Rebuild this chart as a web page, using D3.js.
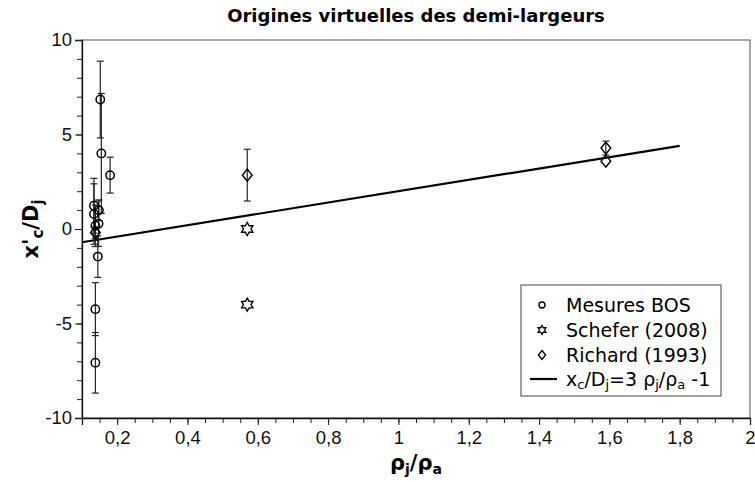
<!DOCTYPE html>
<html>
<head>
<meta charset="utf-8">
<script src="https://cdn.jsdelivr.net/npm/d3@7"></script>
<style>
  body { margin: 0; background: #fff; }
  svg { display: block; font-family: "DejaVu Sans", sans-serif; }
</style>
</head>
<body>
<svg id="chart" width="755" height="482"></svg>
<script>
// Mesures BOS: density ratio, virtual origin, half error
const bosX   = [0.134, 0.134, 0.148, 0.138, 0.147, 0.145, 0.152, 0.155, 0.18, 0.138, 0.138];
const bosY   = [1.23, 0.79, 0.99, 0.17, 0.28, -1.46, 6.85, 4.0, 2.85, -4.24, -7.08];
const bosErr = [1.45, 1.6, 0.55, 1.1, 1.2, 1.1, 2.03, 3.17, 0.95, 1.4, 1.6];

// Schefer (2008)
const scheferX = [0.57, 0.57];
const scheferY = [0.0, -4.0];

// Richard (1993)
const richardX   = [0.138, 0.57, 1.59, 1.59];
const richardY   = [-0.19, 2.85, 4.28, 3.59];
const richardErr = [0.3, 1.37, 0.37, 0.0];

// Correlation x_c/D_j = 3 rho_j/rho_a - 1
const fitX = [0.1, 1.8];

const xTicks = [0.2, 0.4, 0.6, 0.8, 1, 1.2, 1.4, 1.6, 1.8, 2];
const yTicks = [-10, -5, 0, 5, 10];

const W = 755, H = 482;
const m = { left: 82, right: 5, top: 40, bottom: 64 };
const svg = d3.select("#chart");

const x = d3.scaleLinear().domain([0.1, 2]).range([m.left, W - m.right]);
const y = d3.scaleLinear().domain([-10, 10]).range([H - m.bottom, m.top]);
const fmt = d => d3.format("")(d).replace(".", ",");

// frame
svg.append("rect")
  .attr("x", x(0.1)).attr("y", y(10))
  .attr("width", x(2) - x(0.1)).attr("height", y(-10) - y(10))
  .attr("fill", "none").attr("stroke", "#555").attr("stroke-width", 1);

// axes: minor ticks, then labelled major ticks
const xMinor = d3.range(0.1, 2.001, 0.05);
const yMinor = d3.range(-10, 10.001, 1);

svg.append("g").attr("transform", `translate(0,${y(-10)})`)
  .call(d3.axisBottom(x).tickValues(xMinor).tickSize(5).tickFormat(""))
  .call(g => g.select(".domain").remove());
const gx = svg.append("g").attr("transform", `translate(0,${y(-10)})`)
  .call(d3.axisBottom(x).tickValues(xTicks).tickSize(7).tickPadding(6).tickFormat(fmt));
gx.selectAll("text").attr("font-size", 18.5).attr("fill", "#111");

svg.append("g").attr("transform", `translate(${x(0.1)},0)`)
  .call(d3.axisLeft(y).tickValues(yMinor).tickSize(5).tickFormat(""))
  .call(g => g.select(".domain").remove());
const gy = svg.append("g").attr("transform", `translate(${x(0.1)},0)`)
  .call(d3.axisLeft(y).tickValues(yTicks).tickSize(7).tickPadding(3).tickFormat(d => d));
gy.selectAll("text").attr("font-size", 18.5).attr("fill", "#111");
svg.selectAll(".domain").attr("stroke", "#111").attr("stroke-width", 1.3);
svg.selectAll(".tick line").attr("stroke", "#222");

// title
svg.append("text").attr("x", (x(0.1) + x(2)) / 2).attr("y", 22)
  .attr("text-anchor", "middle").attr("font-size", 18).attr("font-weight", "bold")
  .text("Origines virtuelles des demi-largeurs");

// axis labels
const xl = svg.append("text").attr("x", (x(0.1) + x(2)) / 2).attr("y", 470)
  .attr("text-anchor", "middle").attr("font-size", 21).attr("font-weight", "bold");
xl.append("tspan").text("ρ");
xl.append("tspan").attr("font-size", 14).attr("dy", 4).text("j");
xl.append("tspan").attr("dy", -4).text("/ρ");
xl.append("tspan").attr("font-size", 14).attr("dy", 4).text("a");

const yl = svg.append("text")
  .attr("transform", `translate(38,${y(0)}) rotate(-90)`)
  .attr("text-anchor", "middle").attr("font-size", 21).attr("font-weight", "bold");
yl.append("tspan").text("x'");
yl.append("tspan").attr("font-size", 15).attr("dy", 5).text("c");
yl.append("tspan").attr("dy", -5).text("/D");
yl.append("tspan").attr("font-size", 15).attr("dy", 5).text("j");

const plot = svg.append("g");

// fit line
plot.append("line")
  .attr("x1", x(fitX[0])).attr("y1", y(3 * fitX[0] - 1))
  .attr("x2", x(fitX[1])).attr("y2", y(3 * fitX[1] - 1))
  .attr("stroke", "#000").attr("stroke-width", 2.2);

// error bars
function errorBars(xs, ys, es, color) {
  const g = plot.append("g").attr("stroke", color).attr("stroke-width", 1.2);
  xs.forEach((xv, i) => {
    if (!es[i]) return;
    const cx = x(xv), top = y(ys[i] + es[i]), bot = y(ys[i] - es[i]);
    g.append("line").attr("x1", cx).attr("x2", cx).attr("y1", top).attr("y2", bot);
    g.append("line").attr("x1", cx - 3.5).attr("x2", cx + 3.5).attr("y1", top).attr("y2", top);
    g.append("line").attr("x1", cx - 3.5).attr("x2", cx + 3.5).attr("y1", bot).attr("y2", bot);
  });
}
errorBars(bosX, bosY, bosErr, "#222");
errorBars(richardX, richardY, richardErr, "#222");

// marker shapes
function hexagram(r) {
  const pts = [];
  for (let k = 0; k < 12; k++) {
    const a = -Math.PI / 2 + k * Math.PI / 6;
    const rr = k % 2 === 0 ? r : r / Math.sqrt(3);
    pts.push([rr * Math.cos(a), rr * Math.sin(a)]);
  }
  return d3.line()(pts) + "Z";
}
const diamond = "M0,-6L4.8,0L0,6L-4.8,0Z";

plot.selectAll(".bos").data(bosX).join("circle")
  .attr("cx", d => x(d)).attr("cy", (d, i) => y(bosY[i])).attr("r", 4.2)
  .attr("fill", "none").attr("stroke", "#000").attr("stroke-width", 1.5);

plot.selectAll(".sch").data(scheferX).join("path")
  .attr("transform", (d, i) => `translate(${x(d)},${y(scheferY[i])})`)
  .attr("d", hexagram(6.5)).attr("fill", "none").attr("stroke", "#000").attr("stroke-width", 1.4);

plot.selectAll(".ric").data(richardX).join("path")
  .attr("transform", (d, i) => `translate(${x(d)},${y(richardY[i])})`)
  .attr("d", diamond).attr("fill", "none").attr("stroke", "#000").attr("stroke-width", 1.5);

// legend
const lg = svg.append("g");
lg.append("rect").attr("x", 521).attr("y", 285).attr("width", 200).attr("height", 111)
  .attr("fill", "#fff").attr("stroke", "#444").attr("stroke-width", 1);
const rows = [305, 330, 355, 379];
const labels = ["Mesures BOS", "Schefer (2008)", "Richard (1993)"];
lg.append("circle").attr("cx", 542).attr("cy", rows[0]).attr("r", 3)
  .attr("fill", "none").attr("stroke", "#000").attr("stroke-width", 1.4);
lg.append("path").attr("transform", `translate(542,${rows[1]})`).attr("d", hexagram(4.5))
  .attr("fill", "none").attr("stroke", "#000").attr("stroke-width", 1.3);
lg.append("path").attr("transform", `translate(542,${rows[2]}) scale(0.75)`).attr("d", diamond)
  .attr("fill", "none").attr("stroke", "#000").attr("stroke-width", 1.8);
lg.append("line").attr("x1", 530).attr("x2", 557).attr("y1", rows[3]).attr("y2", rows[3])
  .attr("stroke", "#000").attr("stroke-width", 2.2);
labels.forEach((t, i) => {
  lg.append("text").attr("x", 566).attr("y", rows[i] + 7).attr("font-size", 19).text(t);
});
const lt = lg.append("text").attr("x", 566).attr("y", rows[3] + 7).attr("font-size", 19);
lt.append("tspan").text("x");
lt.append("tspan").attr("font-size", 13).attr("dy", 3).text("c");
lt.append("tspan").attr("dy", -3).text("/D");
lt.append("tspan").attr("font-size", 13).attr("dy", 3).text("j");
lt.append("tspan").attr("dy", -3).text("=3 ρ");
lt.append("tspan").attr("font-size", 13).attr("dy", 3).text("j");
lt.append("tspan").attr("dy", -3).text("/ρ");
lt.append("tspan").attr("font-size", 13).attr("dy", 3).text("a");
lt.append("tspan").attr("dy", -3).text(" -1");
</script>
</body>
</html>
